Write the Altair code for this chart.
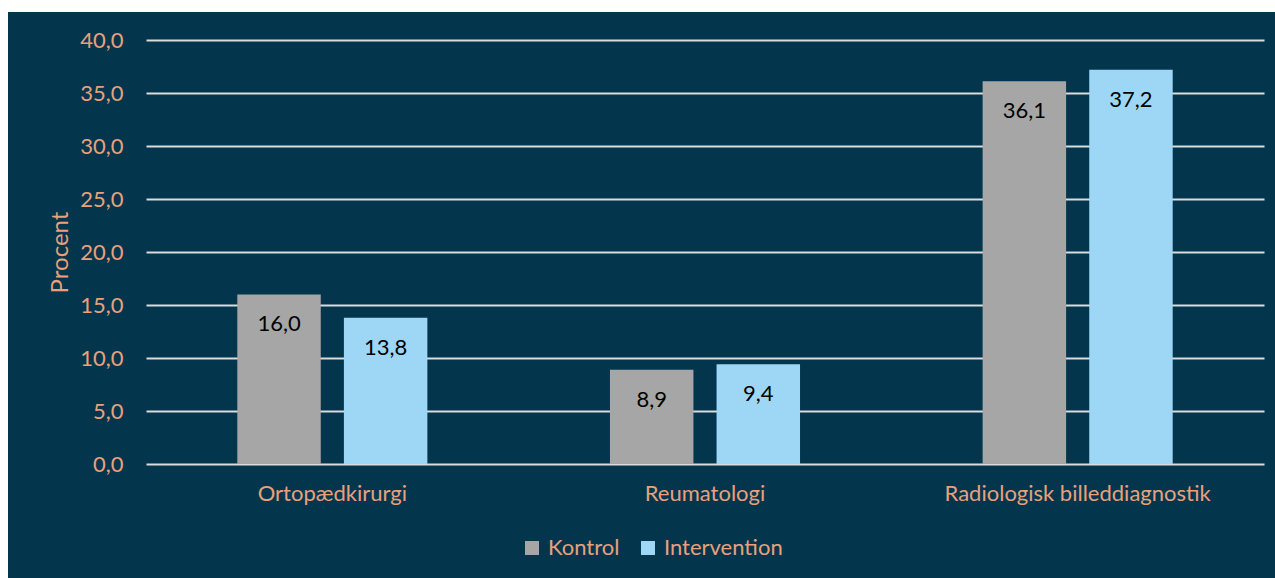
import altair as alt
import pandas as pd

categories = ["Ortopædkirurgi", "Reumatologi", "Radiologisk billeddiagnostik"]
series = ["Kontrol", "Intervention"]
kontrol = [16.0, 8.9, 36.1]
intervention = [13.8, 9.4, 37.2]
y_ticks = [0, 5, 10, 15, 20, 25, 30, 35, 40]
colors = ["#a6a6a6", "#9dd7f5"]

rows = []
for i, c in enumerate(categories):
    rows.append({"kategori": c, "gruppe": "Kontrol", "procent": kontrol[i]})
    rows.append({"kategori": c, "gruppe": "Intervention", "procent": intervention[i]})
df = pd.DataFrame(rows)

BG = "#03364d"
TXT = "#e9a07c"
FONT = "Lato"
FS = 22

base = alt.Chart(df).transform_calculate(
    label="replace(format(datum.procent, '.1f'), '.', ',')"
).encode(
    x=alt.X(
        "kategori:N",
        sort=categories,
        scale=alt.Scale(paddingInner=0.49, paddingOuter=0.245),
        axis=alt.Axis(
            title=None, labelAngle=0, labelColor=TXT, labelFont=FONT, labelFontSize=FS,
            labelPadding=19, labelLimit=0, ticks=False, domain=False, grid=False,
        ),
    ),
    xOffset=alt.XOffset("gruppe:N", sort=series, scale=alt.Scale(paddingInner=0.217, paddingOuter=0)),
    y=alt.Y(
        "procent:Q",
        scale=alt.Scale(domain=[0, 40], nice=False),
        axis=alt.Axis(
            values=y_ticks, labelExpr="replace(format(datum.value, '.1f'), '.', ',')",
            title="Procent", titleColor=TXT, titleFont=FONT, titleFontSize=24, titleFontWeight="normal",
            titleAngle=-90, titleX=-86, titleY=212, titleAlign="center", titleBaseline="middle",
            labelColor=TXT, labelFont=FONT, labelFontSize=FS, labelPadding=23,
            ticks=False, domain=False, grid=True, gridColor="#dcdcdc", gridWidth=1.8,
        ),
    ),
)

bars = base.mark_bar().encode(
    color=alt.Color(
        "gruppe:N", sort=series,
        scale=alt.Scale(domain=series, range=colors),
        legend=alt.Legend(
            title=None, orient="none", direction="horizontal", legendX=375, legendY=497,
            symbolType="square", symbolSize=196, symbolStrokeWidth=0, symbolOpacity=1,
            labelColor=TXT, labelFont=FONT, labelFontSize=FS, columnPadding=17, labelOffset=5,
        ),
    )
)

labels = base.mark_text(baseline="middle", dy=30, color="#000000", font=FONT, fontSize=FS).encode(
    text="label:N"
)

strip_df = pd.DataFrame({"s": [0]})
left_strip = alt.Chart(strip_df).mark_rect(color="#ffffff").encode(
    x=alt.value(-146), x2=alt.value(-138), y=alt.value(-40), y2=alt.value(538)
)
top_strip = alt.Chart(strip_df).mark_rect(color="#ffffff").encode(
    x=alt.value(-146), x2=alt.value(1129), y=alt.value(-40), y2=alt.value(-28)
)

chart = alt.layer(bars, labels, left_strip, top_strip).properties(
    width=1118, height=424,
    padding={"left": 146, "top": 40, "right": 11, "bottom": 114},
    autosize=alt.AutoSizeParams(type="none"),
    background=BG,
).configure_view(stroke=None)

chart.save("out.html", embed_options={"renderer": "svg", "actions": False})
